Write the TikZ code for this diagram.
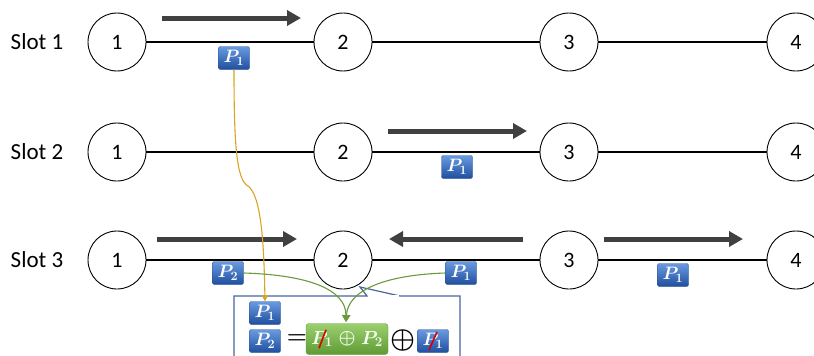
\documentclass[tikz,border=0pt]{standalone}
\usepackage{fontspec}
\usepackage{fix-cm}
\setmainfont{Carlito}
\usetikzlibrary{arrows.meta}
\definecolor{bbtop}{HTML}{6A9BE0}
\definecolor{bbbot}{HTML}{1E4E9E}
\definecolor{bbdraw}{HTML}{2A4F8A}
\definecolor{gtop}{HTML}{9CCF6E}
\definecolor{gbot}{HTML}{5E9B34}
\definecolor{arrowgray}{HTML}{404040}
\definecolor{yel}{HTML}{D9A520}
\definecolor{grn}{HTML}{6A9A3C}
\definecolor{boxblue}{HTML}{4A64A0}
\tikzset{
  station/.style={circle,draw=black,line width=0.9pt,fill=white,minimum size=58pt,inner sep=0pt,font=\fontsize{22}{22}\selectfont},
  slotlabel/.style={font=\fontsize{23}{23}\selectfont,inner sep=0pt},
  link/.style={line width=1.3pt,black},
  movearrow/.style={line width=5pt,arrowgray,-{Triangle[length=14pt,width=15pt]}},
  badge/.style={rounded corners=2pt,minimum width=31pt,minimum height=23pt,inner sep=0pt,top color=bbtop,bottom color=bbbot,draw=bbdraw,line width=0.4pt,text=white,font=\fontsize{18}{18}\selectfont\boldmath},
  gbox/.style={rounded corners=3pt,minimum width=82pt,minimum height=31pt,inner sep=0pt,top color=gtop,bottom color=gbot,draw=gbot,line width=0.4pt},
  gtext/.style={text=white!95!green,inner sep=0pt,font=\fontsize{19}{19}\selectfont\boldmath},
  slash/.style={red!85!black,line width=1.6pt},
  yflow/.style={yel,line width=1.1pt,-{Triangle[length=6pt,width=6pt]}},
  gflow/.style={grn,line width=1.1pt,-{Triangle[length=7pt,width=8pt]}},
  callout/.style={boxblue,line width=1.2pt},
  opsym/.style={font=\fontsize{28}{28}\selectfont\boldmath,inner sep=0pt},
}
\begin{document}
\begin{tikzpicture}[x=1pt,y=-1pt]
\useasboundingbox (0,0) rectangle (814,356);
% slot labels
\node[slotlabel] (s1) at (37,42) {Slot 1};
\node[slotlabel] (s2) at (37,152) {Slot 2};
\node[slotlabel] (s3) at (37,260) {Slot 3};
% rows
\foreach \r/\y in {a/42,b/152,c/260}{
  \node[station] (\r1) at (117,\y) {1};
  \node[station] (\r2) at (343,\y) {2};
  \node[station] (\r3) at (569,\y) {3};
  \node[station] (\r4) at (796,\y) {4};
  \draw[link] (\r1) -- (\r2);
  \draw[link] (\r2) -- (\r3);
  \draw[link] (\r3) -- (\r4);
}
% movement arrows
\coordinate (m1s) at (162,18); \coordinate (m1e) at (301,18);
\coordinate (m2s) at (388,131); \coordinate (m2e) at (527,131);
\coordinate (m3s) at (157,239); \coordinate (m3e) at (297,239);
\coordinate (m4s) at (523,239); \coordinate (m4e) at (389,239);
\coordinate (m5s) at (604,239); \coordinate (m5e) at (743,239);
\draw[movearrow] (m1s) -- (m1e);
\draw[movearrow] (m2s) -- (m2e);
\draw[movearrow] (m3s) -- (m3e);
\draw[movearrow] (m4s) -- (m4e);
\draw[movearrow] (m5s) -- (m5e);
% packets
\node[badge] (pa) at (234,58) {$P_1$};
\node[badge] (pb) at (457,167) {$P_1$};
\node[badge] (pc2) at (228,273) {$P_2$};
\node[badge] (pc1) at (461,273) {$P_1$};
\node[badge] (pc4) at (673,275) {$P_1$};
% callout box
\draw[callout,fill=white] (367,296) -- (234,296) -- (234,360) -- (460,360) -- (460,296) -- (400,296) -- (360,287) -- cycle;
\draw[white,line width=1.4pt] (367.6,296) -- (399.4,296);
% inside box
\node[badge] (q1) at (265,313) {$P_1$};
\node[badge] (q2) at (265,341) {$P_2$};
\node[font=\fontsize{23}{23}\selectfont\boldmath,inner sep=0pt] (eq) at (297,339) {$=$};
\node[gbox] (g) at (347,339) {};
\node[gtext] (g1) at (322,339) {$P_1$};
\node[gtext] (gx) at (347,339) {$\oplus$};
\node[gtext] (g2) at (372,339) {$P_2$};
\draw[slash] ([xshift=-3pt,yshift=-1pt]g1.south) -- ([xshift=4pt,yshift=1pt]g1.north);
\node[opsym] (ox) at (403,340) {$\oplus$};
\node[badge] (q3) at (433,341) {$P_1$};
\draw[slash] ([xshift=-4pt,yshift=-9pt]q3.center) -- ([xshift=4pt,yshift=9pt]q3.center);
% flows
\coordinate (yk) at (248,186);
\draw[yflow] (pa.south) .. controls (234,140) and (236,180) .. (yk) .. controls (262,196) and (264,250) .. (q1.north);
\coordinate (gt) at (346,322);
\draw[gflow] (pc2.east) .. controls (310,275) and (346,290) .. (gt);
\draw[gflow] (pc1.west) .. controls (385,275) and (348,290) .. (gt);
\end{tikzpicture}
\end{document}
